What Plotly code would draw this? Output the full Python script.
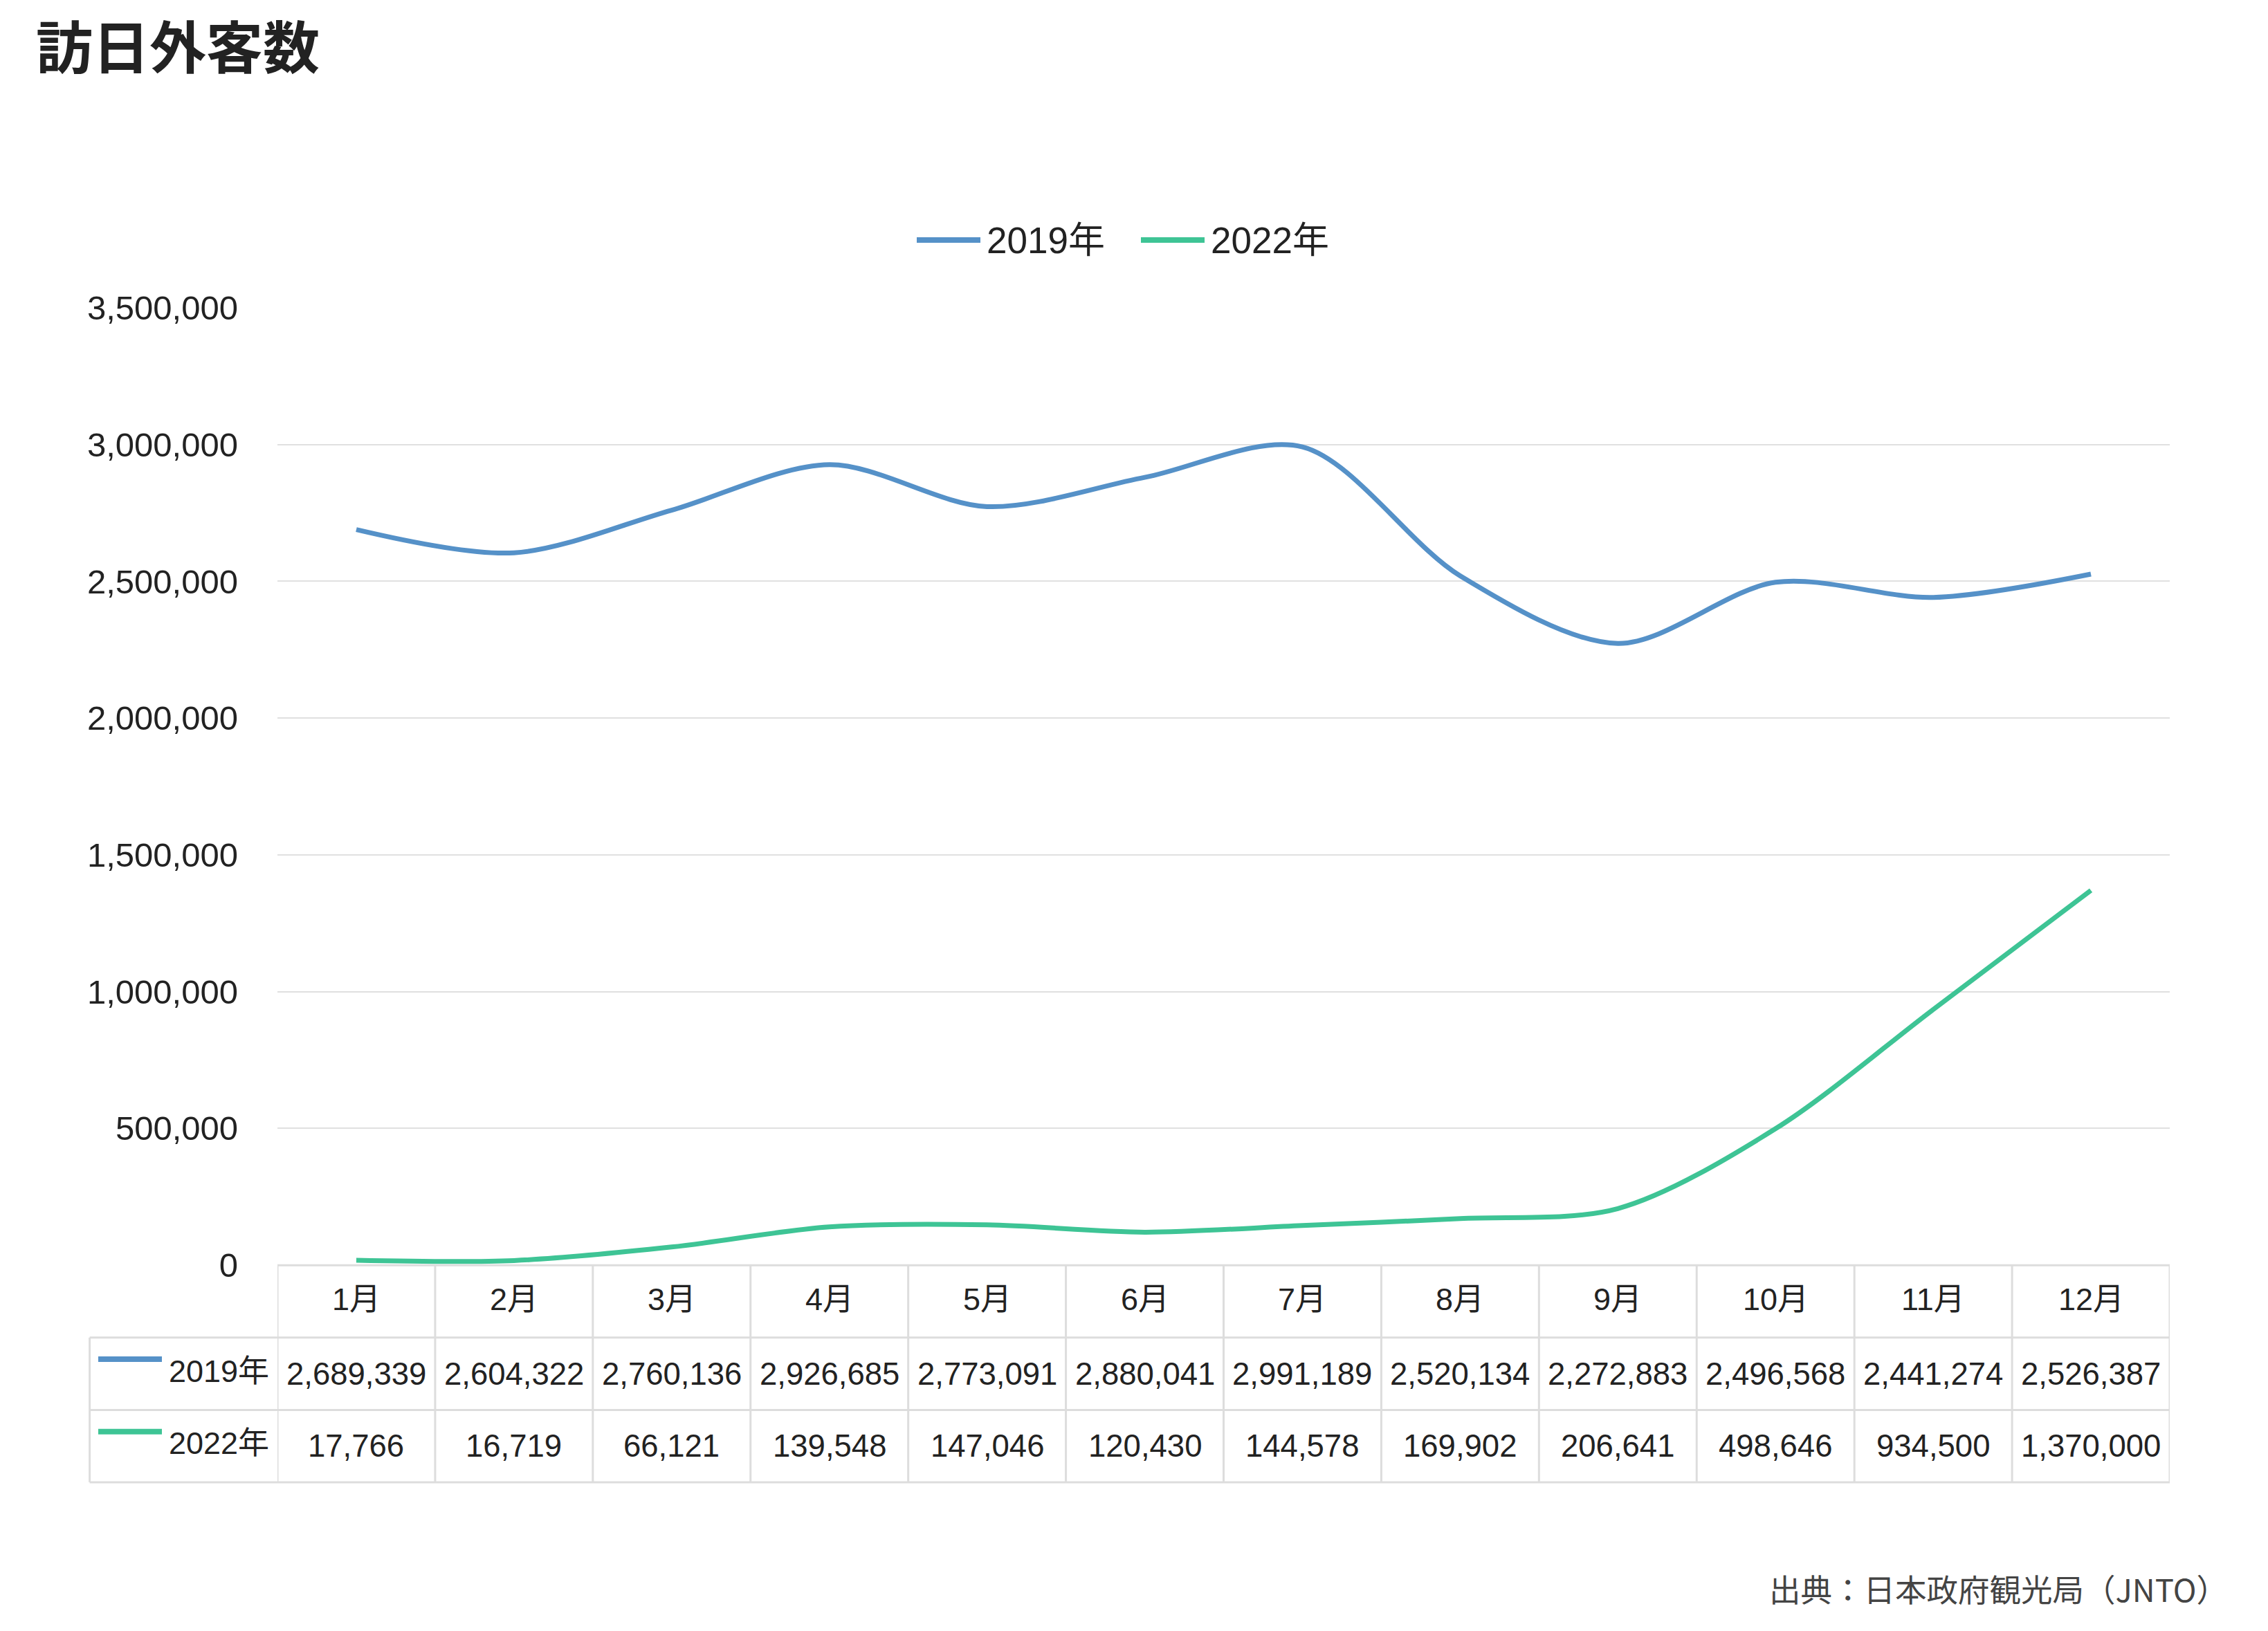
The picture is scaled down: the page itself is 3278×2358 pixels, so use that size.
import plotly.graph_objects as go

# ---------------- data ----------------
months = ["1月", "2月", "3月", "4月", "5月", "6月", "7月", "8月", "9月", "10月", "11月", "12月"]
series_names = ["2019年", "2022年"]
visitors_2019 = [2689339, 2604322, 2760136, 2926685, 2773091, 2880041,
                 2991189, 2520134, 2272883, 2496568, 2441274, 2526387]
visitors_2022 = [17766, 16719, 66121, 139548, 147046, 120430,
                 144578, 169902, 206641, 498646, 934500, 1370000]
title_text = "訪日外客数"
source_text = "出典：日本政府観光局（JNTO）"
y_ticks = [0, 500000, 1000000, 1500000, 2000000, 2500000, 3000000, 3500000]

# ---------------- styling ----------------
W, H = 3278, 2358
PL, PR, PT, PB = 401, 3136, 445, 1829      # plot area in px
colors = ["#5591c8", "#3ec495"]
grid_col = "#e0e0e0"
border_col = "#dddddd"
txt_col = "#222222"
FONT = "Liberation Sans, Arial, Noto Sans CJK JP, sans-serif"

def py(p):   # pixel y -> paper y
    return (PB - p) / (PB - PT)

def px(p):   # pixel x -> paper x
    return (p - PL) / (PR - PL)

series = [visitors_2019, visitors_2022]
x_idx = list(range(len(months)))

fig = go.Figure()
for name, vals, c in zip(series_names, series, colors):
    fig.add_trace(go.Scatter(
        x=x_idx, y=vals, name=name, mode="lines",
        line=dict(color=c, width=7, shape="spline", smoothing=0.9),
        showlegend=False, hoverinfo="x+y",
    ))

shapes = []
annotations = []

def note(x, y, text, size, xref="paper", xanchor="center", color=txt_col, family=FONT):
    annotations.append(dict(x=x, y=y, xref=xref, yref="paper", text=text,
                            xanchor=xanchor, yanchor="middle", showarrow=False,
                            font=dict(size=size, color=color, family=family)))

# --- table ---
row_edges = [1829.3, 1933.8, 2038.4, 2142.9]
lab_left = 129.6
bw = 3
shapes.append(dict(type="line", xref="paper", yref="paper",
                   x0=0, x1=1, y0=py(row_edges[0]), y1=py(row_edges[0]),
                   line=dict(color=border_col, width=bw)))
for e in row_edges[1:]:
    shapes.append(dict(type="line", xref="paper", yref="paper",
                       x0=px(lab_left), x1=1, y0=py(e), y1=py(e),
                       line=dict(color=border_col, width=bw)))
for i in range(len(months) + 1):
    shapes.append(dict(type="line", xref="x", yref="paper",
                       x0=i - 0.5, x1=i - 0.5, y0=py(row_edges[0]), y1=py(row_edges[3]),
                       line=dict(color=border_col, width=bw)))
shapes.append(dict(type="line", xref="paper", yref="paper",
                   x0=px(lab_left), x1=px(lab_left), y0=py(row_edges[1]), y1=py(row_edges[3]),
                   line=dict(color=border_col, width=bw)))

# header month labels
hdr_c = (row_edges[0] + row_edges[1]) / 2 - 3
for i, m in enumerate(months):
    note(i, py(hdr_c), m, 45, xref="x")

# data rows
for r, (name, vals, c) in enumerate(zip(series_names, series, colors)):
    top, bot = row_edges[r + 1], row_edges[r + 2]
    cy = (top + bot) / 2
    for i, v in enumerate(vals):
        note(i, py(cy), f"{v:,}", 45.5, xref="x")
    note(px(391), py(cy - 4), name, 45, xanchor="right")
    shapes.append(dict(type="line", xref="paper", yref="paper",
                       x0=px(142), x1=px(234), y0=py(cy - 21), y1=py(cy - 21),
                       line=dict(color=c, width=8)))

# --- top legend ---
leg_y = 347
leg_items = [(1325, 1417, 1424), (1649, 1741, 1748)]
for (x0, x1, tx), name, c in zip(leg_items, series_names, colors):
    shapes.append(dict(type="line", xref="paper", yref="paper",
                       x0=px(x0), x1=px(x1), y0=py(leg_y), y1=py(leg_y),
                       line=dict(color=c, width=8)))
    note(px(tx), py(leg_y), name, 53, xanchor="left")

# --- title ---
note(px(50), py(63), f"<b>{title_text}</b>", 82, xanchor="left",
     family="Noto Sans CJK JP, sans-serif")
# --- source ---
note(px(3222), py(2296), source_text, 45.5, xanchor="right", color="#444444",
     family="Noto Sans CJK JP, sans-serif")

fig.update_layout(
    width=W, height=H, autosize=False,
    margin=dict(l=PL, r=W - PR, t=PT, b=H - PB, pad=0),
    plot_bgcolor="white", paper_bgcolor="white",
    font=dict(family=FONT, color=txt_col),
    shapes=shapes, annotations=annotations,
    showlegend=False,
    xaxis=dict(range=[-0.5, len(months) - 0.5], showgrid=False, zeroline=False,
               showticklabels=False, showline=False, ticks=""),
    yaxis=dict(range=[0, 3500000], tickvals=y_ticks, tickformat=",d",
               showgrid=True, gridcolor=grid_col, gridwidth=2, zeroline=False,
               showline=False, ticks="", ticklabelstandoff=56,
               tickfont=dict(size=49, color=txt_col, family=FONT)),
)

fig.write_html("out.html")
